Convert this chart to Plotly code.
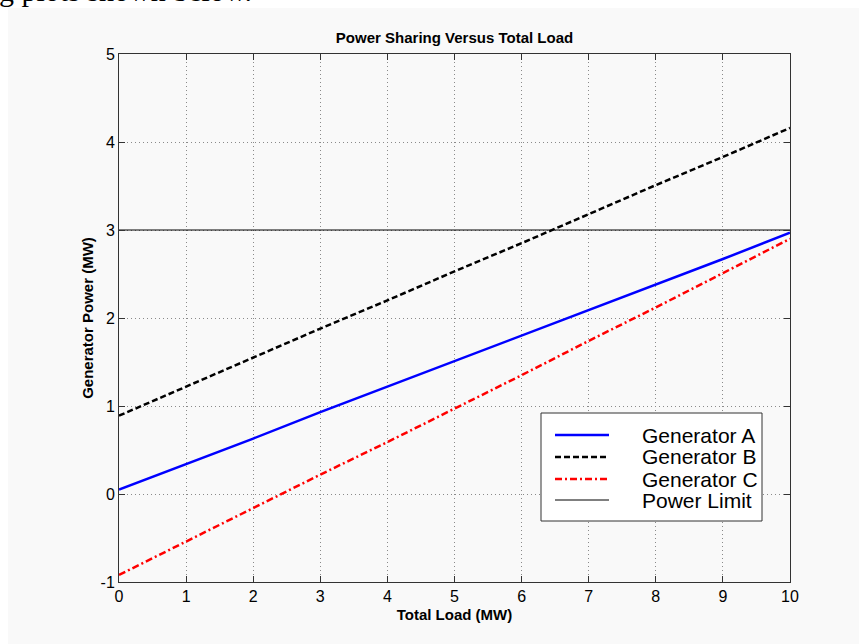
import plotly.graph_objects as go

load = [0, 1, 2, 3, 4, 5, 6, 7, 8, 9, 10]
gen_a = [0.05, 0.34, 0.63, 0.93, 1.22, 1.51, 1.80, 2.09, 2.38, 2.67, 2.97]
gen_b = [0.89, 1.22, 1.55, 1.88, 2.20, 2.53, 2.85, 3.18, 3.51, 3.83, 4.16]
gen_c = [-0.92, -0.54, -0.16, 0.22, 0.59, 0.97, 1.35, 1.74, 2.12, 2.51, 2.90]
limit_x = [0, 10]
limit_y = [3, 3]

x_ticks = [0, 1, 2, 3, 4, 5, 6, 7, 8, 9, 10]
y_ticks = [-1, 0, 1, 2, 3, 4, 5]
y_tick_text = ["-1", "0", "1", "2", "3", "4", "5"]

series_names = ["Generator A", "Generator B", "Generator C", "Power Limit"]
series_colors = ["#0000ff", "black", "#ff0000", "black"]
series_dash = ["solid", "6px,3px", "7px,3px,2px,3px", "solid"]
series_width = [2.5, 2.5, 2.5, 1]

fig = go.Figure()
for xs, ys, i in [(load, gen_a, 0), (load, gen_b, 1), (load, gen_c, 2), (limit_x, limit_y, 3)]:
    fig.add_trace(go.Scatter(x=xs, y=ys, mode="lines", name=series_names[i],
                             showlegend=False,
                             line=dict(color=series_colors[i], width=series_width[i],
                                       dash=series_dash[i])))

font = "Liberation Sans, Arial, sans-serif"
axis_common = dict(
    showgrid=True, gridcolor="#8a8a8a", griddash="1px,3px", gridwidth=1,
    showline=True, linecolor="#333333", linewidth=1, mirror="ticks",
    ticks="inside", ticklen=6, tickcolor="#333333",
    zeroline=False, tickfont=dict(family=font, size=16, color="black"),
)

# plot area in pixels (page without body margin)
L, R, T, B = 119, 790, 54, 582
W, H = R - L, B - T


def px(x):
    return (x - L) / W


def py(y):
    return (B - y) / H


# hand-built legend box in the MATLAB style
shapes = [dict(type="rect", xref="paper", yref="paper",
               x0=px(8), x1=px(859), y0=py(644), y1=py(8),
               fillcolor="#f9f9f9", line=dict(width=0), layer="below"),
          dict(type="rect", xref="paper", yref="paper",
               x0=px(541), x1=px(762), y0=py(521), y1=py(413),
               fillcolor="white", line=dict(color="#333333", width=1), layer="above")]
annotations = [dict(text="g plots shown below.", xref="paper", yref="paper",
                    x=px(-3), y=py(9.2), xanchor="left", yanchor="bottom",
                    showarrow=False,
                    font=dict(family="Liberation Serif, Times New Roman, serif",
                              size=30, color="black"))]
row_y = [435, 457, 479, 500]
for i, name in enumerate(series_names):
    shapes.append(dict(type="line", xref="paper", yref="paper",
                       x0=px(555), x1=px(609), y0=py(row_y[i]), y1=py(row_y[i]),
                       line=dict(color=series_colors[i], width=series_width[i],
                                 dash=series_dash[i]), layer="above"))
    annotations.append(dict(text=name, xref="paper", yref="paper",
                            x=px(640), y=py(row_y[i]), xanchor="left", yanchor="middle",
                            showarrow=False,
                            font=dict(family=font, size=21, color="black")))

fig.update_layout(
    width=859, height=644,
    paper_bgcolor="white", plot_bgcolor="white",
    margin=dict(l=L, r=859 - R, t=T, b=644 - B),
    title=dict(text="<b>Power Sharing Versus Total Load</b>", x=0.5, xref="paper",
               y=1, yref="paper", yanchor="bottom", pad=dict(b=11),
               font=dict(family=font, size=15, color="black")),
    xaxis=dict(range=[0, 10], tickvals=x_ticks,
               title=dict(text="<b>Total Load (MW)</b>", standoff=5,
                          font=dict(family=font, size=15, color="black")),
               **axis_common),
    yaxis=dict(range=[-1, 5], tickvals=y_ticks, ticktext=y_tick_text,
               title=dict(text="<b>Generator Power (MW)</b>", standoff=3,
                          font=dict(family=font, size=15, color="black")),
               **axis_common),
    showlegend=False,
    shapes=shapes,
    annotations=annotations,
)

fig.write_html("out.html", config={"displayModeBar": False},
               post_script="document.body.style.margin='0px';")
